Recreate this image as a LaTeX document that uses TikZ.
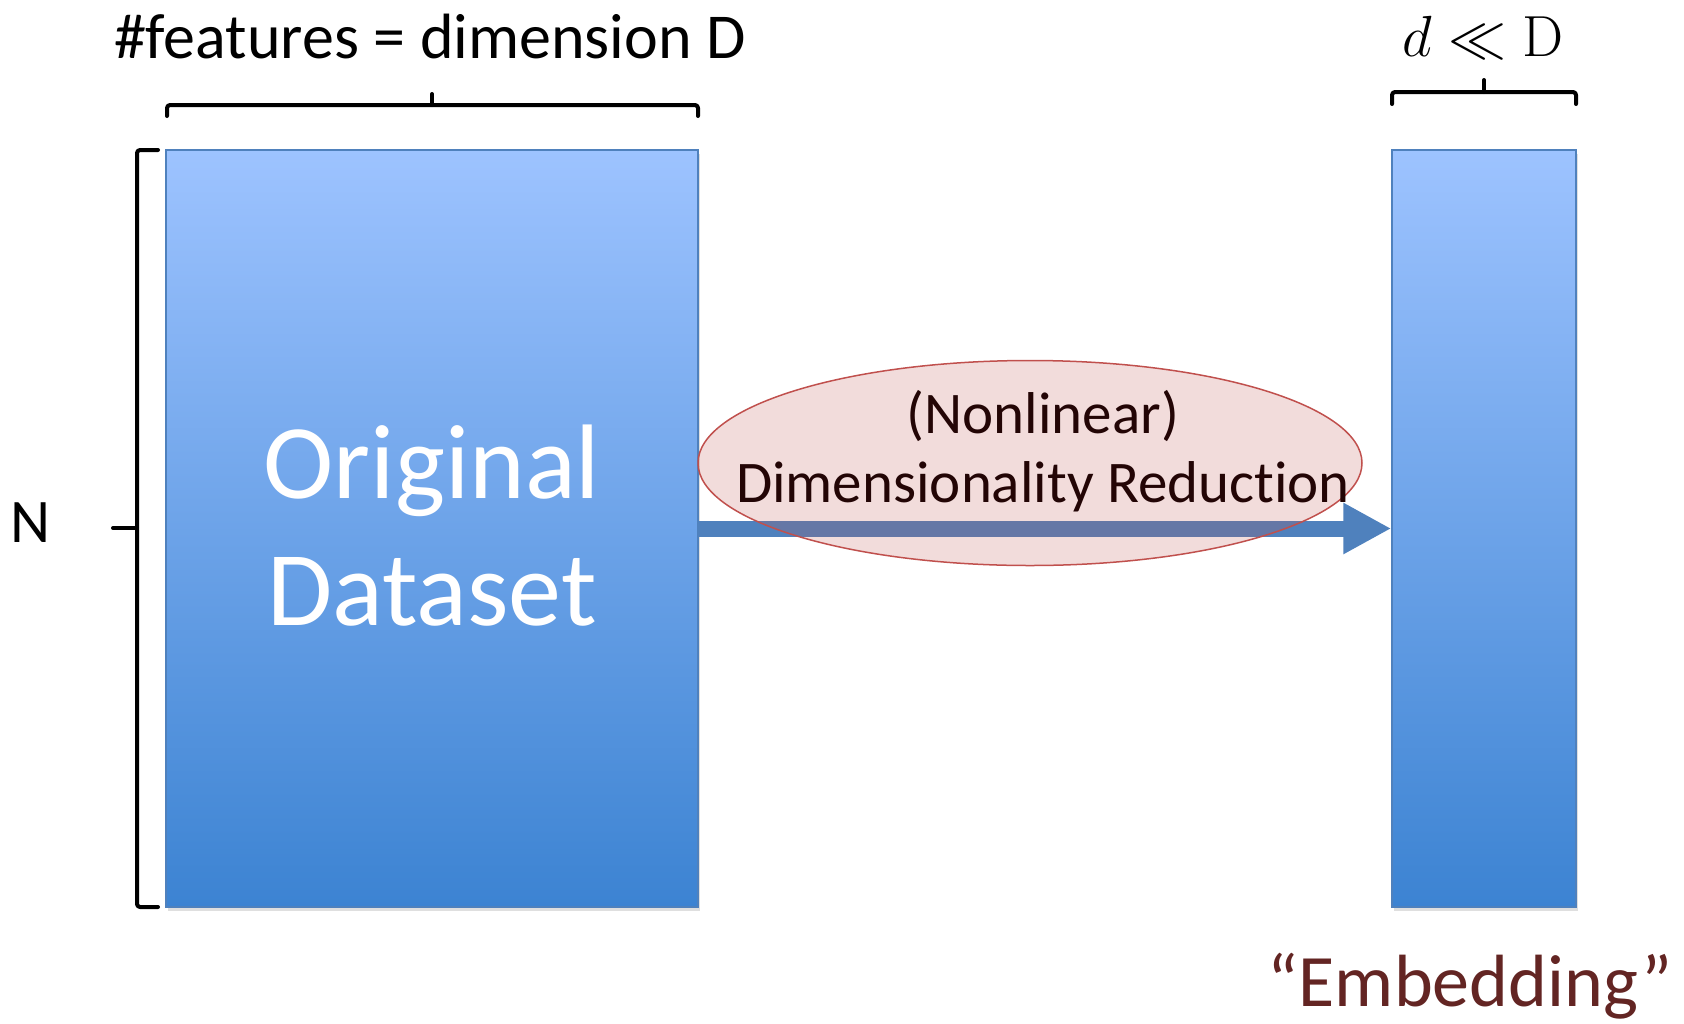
\documentclass[tikz,border=0pt]{standalone}
\usepackage{fix-cm}
\usepackage[no-math]{fontspec}
\setmainfont{Carlito}[Ligatures=NoCommon]
\usetikzlibrary{shapes.geometric,arrows.meta,shadows}
\definecolor{rtop}{RGB}{157,195,255}
\definecolor{rmid}{RGB}{128,176,240}
\definecolor{rbot}{RGB}{60,131,210}
\definecolor{rborder}{RGB}{79,129,189}
\definecolor{ered}{RGB}{192,80,77}
\definecolor{embred}{RGB}{99,37,35}
\definecolor{drtext}{RGB}{35,5,5}
\begin{document}
\begin{tikzpicture}[x=1pt,y=-1pt,
  datablock/.style={draw=rborder, line width=1.5pt, top color=rtop, middle color=rmid, bottom color=rbot, inner sep=0pt,
    drop shadow={opacity=0.25, shadow xshift=2pt, shadow yshift=-4pt}},
  bracket/.style={line width=4pt, line cap=round, line join=round, rounded corners=3pt},
  lbl/.style={font=\fontsize{59}{69}\selectfont, inner sep=0pt},
]
\useasboundingbox (0,0) rectangle (1684,1023);

% data blocks
\node[datablock, minimum width=532pt, minimum height=757pt] (orig) at (432,528.5) {};
\node[datablock, minimum width=184pt, minimum height=757pt] (emb) at (1484,528.5) {};

% arrow
\draw[line width=16pt, rborder, -{Triangle[length=48pt,width=48pt]}] (orig.east) -- (emb.west);

% ellipse
\node[ellipse, draw=ered, line width=1.5pt, fill=ered, fill opacity=0.2, draw opacity=1,
      minimum width=664pt, minimum height=205pt, inner sep=0pt] (dr) at (1030,463) {};
\node[lbl, text=drtext, align=center] (drlabel) at (1043,451) {(Nonlinear)\\Dimensionality Reduct\kern0pt ion};

% dataset label
\node[font=\fontsize{106}{127}\selectfont, text=white, align=center, inner sep=0pt] (origlabel) at (432,526) {Original\\Dataset};

% brackets
\draw[bracket] (167,116) -- (167,105) -- (698,105) -- (698,116);
\draw[bracket, rounded corners=0pt] (432,105) -- (432,94);
\draw[bracket] (1392,104) -- (1392,92) -- (1576,92) -- (1576,104);
\draw[bracket, rounded corners=0pt] (1484,92) -- (1484,80);
\draw[bracket] (158,150) -- (137,150) -- (137,907) -- (158,907);
\draw[bracket, rounded corners=0pt] (137,528) -- (113,528);

% labels
\node[font=\fontsize{64}{70}\selectfont, inner sep=0pt, anchor=base] (feat) at (430,58) {\#features = dimension D};
\node[font=\fontsize{58}{60}\selectfont, anchor=base, inner sep=0pt] (dll) at (1483,56) {$d \ll \mathrm{D}$};
\node[font=\fontsize{62}{70}\selectfont, inner sep=0pt, anchor=base] (nlabel) at (31,542) {N};
\node[font=\fontsize{74}{80}\selectfont, text=embred, anchor=base, inner sep=0pt] (emblabel) at (1470,1006) {“Embedding”};
\end{tikzpicture}
\end{document}
